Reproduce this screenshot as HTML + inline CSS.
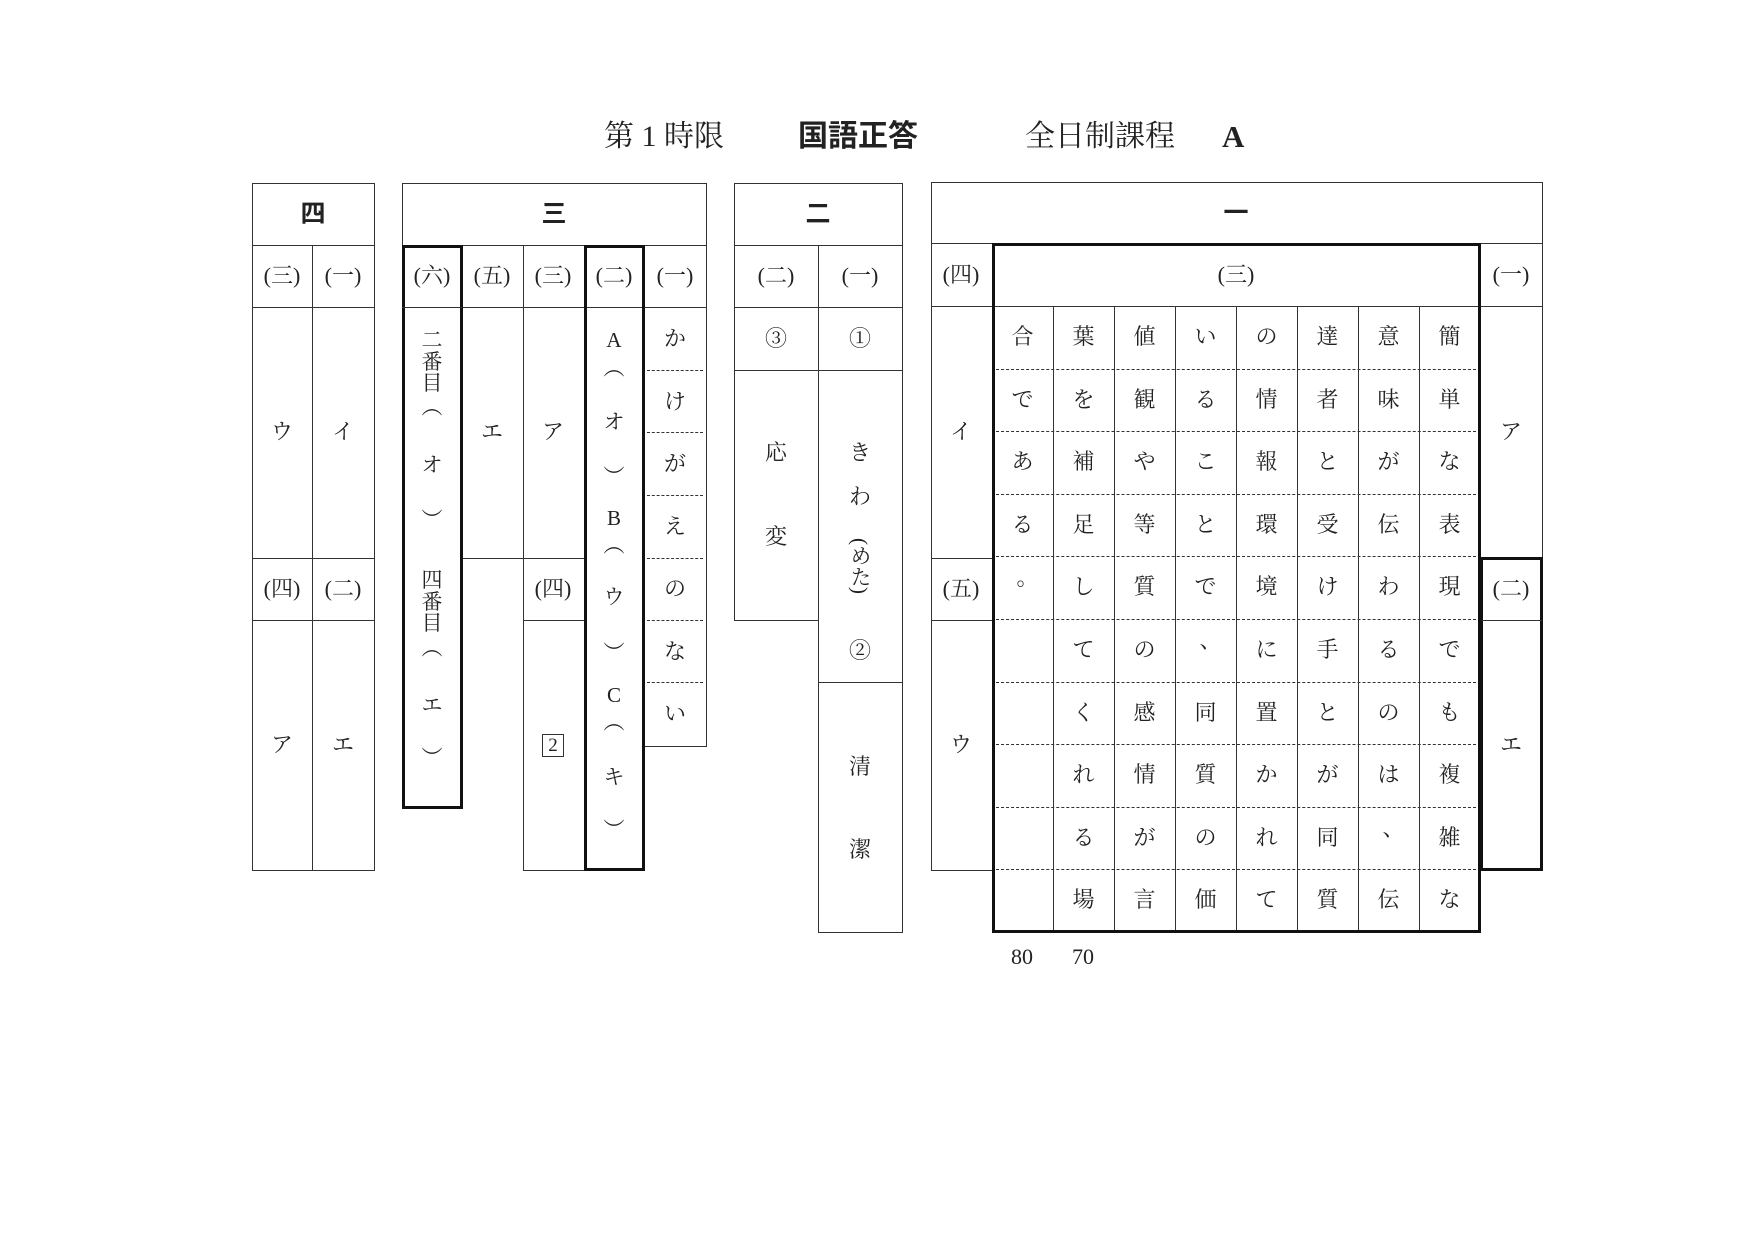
<!DOCTYPE html>
<html><head><meta charset="utf-8">
<style>
html,body{margin:0;padding:0;background:#fff;}
body{width:1754px;height:1240px;position:relative;overflow:hidden;font-family:"Liberation Serif","Noto Serif CJK SC","Noto Sans CJK JP",serif;color:#222;}
.r{position:absolute;border:1.3px solid #333;box-sizing:border-box;}
.k{position:absolute;border:3.5px solid #111;box-sizing:border-box;}
.h{position:absolute;height:0;border-top:1.3px solid #333;}
.d{position:absolute;height:0;border-top:1.5px dashed #333;}
.v{position:absolute;width:0;border-left:1.3px solid #333;}
.t{position:absolute;width:60px;height:30px;line-height:30px;text-align:center;font-size:22px;white-space:nowrap;}
.b{font-family:"Liberation Sans","Noto Sans CJK JP",sans-serif;font-weight:bold;font-size:25px;}
</style></head><body>
<div id="c"></div>
<script>
var H='';
function R(x1,y1,x2,y2,c){H+='<div class="'+(c||'r')+'" style="left:'+x1+'px;top:'+y1+'px;width:'+(x2-x1+1)+'px;height:'+(y2-y1+1)+'px"></div>';}
function HL(x1,x2,y,c){H+='<div class="'+(c||'h')+'" style="left:'+x1+'px;top:'+y+'px;width:'+(x2-x1)+'px"></div>';}
function VL(x,y1,y2){H+='<div class="v" style="left:'+x+'px;top:'+y1+'px;height:'+(y2-y1)+'px"></div>';}
function T(cx,cy,s,cls,st){H+='<div class="t '+(cls||'')+'" style="left:'+(cx-30)+'px;top:'+(cy-15)+'px;'+(st||'')+'">'+s+'</div>';}
// title
var ts='position:absolute;top:120px;font-size:30px;line-height:34px;white-space:nowrap;';
H+='<div style="'+ts+'left:604px">第 1 時限</div>';
H+='<div style="'+ts+'left:798px;font-weight:bold;font-family:\'Liberation Sans\',\'Noto Sans CJK JP\',sans-serif">国語正答</div>';
H+='<div style="'+ts+'left:1025px">全日制課程</div>';
H+='<div style="'+ts+'left:1222px;font-size:31px;font-weight:bold">A</div>';
// 四
R(252,183,374,870);HL(252,374,245);HL(252,374,307);HL(252,374,558);HL(252,374,620);VL(312,245,870);
T(313,214,'四','b');T(282,276,'(三)');T(343,276,'(一)');T(282,432,'ウ');T(343,432,'イ');
T(282,589,'(四)');T(343,589,'(二)');T(282,745,'ア');T(343,745,'エ');
// 三
R(402,183,706,245);T(554,214,'三','b');
R(462,245,523,558);T(492,276,'(五)');T(492,432,'エ');HL(462,523,307);
R(523,245,584,870);HL(523,584,307);HL(462,584,558);HL(523,584,620);T(553,276,'(三)');T(553,432,'ア');T(553,589,'(四)');
H+='<div style="position:absolute;left:542px;top:734px;width:22px;height:23px;border:1.3px solid #333;box-sizing:border-box;font-size:19px;line-height:21px;text-align:center">2</div>';
R(644,245,706,746);HL(644,706,307);
[370,432,495,558,620,682].forEach(function(y){HL(647,703,y,'d');});
'かけがえのない'.split('').forEach(function(c,i){T(675,339+i*62.5,c);});
T(675,276,'(一)');
K1=[[340,'二'],[362,'番'],[383,'目'],[407,'︵'],[465,'オ'],[520,'︶'],[580,'四'],[602,'番'],[623,'目'],[648,'︵'],[705,'エ'],[758,'︶']];
K1.forEach(function(a){T(432,a[0],a[1],'','font-size:21px');});
R(402,245,462,808,'k');HL(402,462,307);T(432,276,'(六)');
K2=[[340,'A'],[368,'︵'],[422,'オ'],[477,'︶'],[518,'B'],[545,'︵'],[597,'ウ'],[653,'︶'],[695,'C'],[722,'︵'],[777,'キ'],[830,'︶']];
K2.forEach(function(a){T(614,a[0],a[1],'','font-size:21px');});
HL(584,644,307);R(584,245,644,870,'k');T(614,276,'(二)');
// 二
R(734,183,902,245);T(818,214,'二','b');
R(734,245,818,620);R(818,245,902,932);HL(734,902,307);HL(734,902,370);HL(818,902,682);
T(776,276,'(二)');T(860,276,'(一)');T(776,339,'③');T(860,339,'①');
T(776,453,'応');T(776,537,'変');T(860,453,'き');T(860,497,'わ');
H+='<div style="position:absolute;left:847px;top:538px;writing-mode:vertical-rl;font-size:21px;line-height:26px">(めた)</div>';
T(860,651,'②');T(860,767,'清');T(860,850,'潔');
// 一
R(931,182,1542,243);T(1236,213,'一','b');
R(931,243,992,870);HL(931,992,306);HL(931,992,558);HL(931,992,620);
T(961,275,'(四)');T(961,432,'イ');T(961,589,'(五)');T(961,745,'ウ');
R(1480,243,1542,557);HL(1480,1542,306);T(1511,275,'(一)');T(1511,432,'ア');
R(1480,557,1542,870,'k');HL(1480,1542,620);T(1511,589,'(二)');T(1511,745,'エ');
HL(992,1480,306);
for(var k=1;k<8;k++)VL(992+k*61,306,932);
for(var j=1;j<10;j++)HL(996,1476,306+j*62.6,'d');
var cols=['簡単な表現でも複雑な','意味が伝わるのは、伝','達者と受け手とが同質','の情報環境に置かれて','いることで、同質の価','値観や等質の感情が言','葉を補足してくれる場','合である。'];
cols.forEach(function(s,i){var cx=1449.5-i*61;s.split('').forEach(function(c,r){var y=337+r*62.6;if(c=='、'||c=='。')T(cx+5,y-9,c);else T(cx,y,c);});});
R(992,243,1480,932,'k');T(1236,275,'(三)');
T(1022,957,'80');T(1083,957,'70');
document.getElementById('c').innerHTML=H;
</script>
</body></html>
